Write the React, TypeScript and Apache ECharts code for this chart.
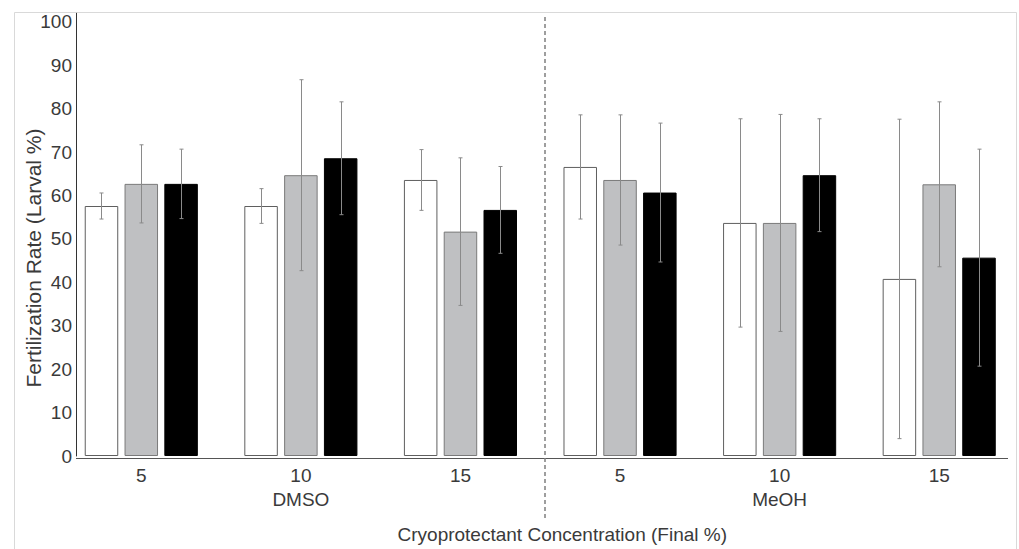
import React, { useEffect, useRef } from "react";
import * as echarts from "echarts";

const categories = ["5", "10", "15", "5", "10", "15"];
const groups = ["DMSO", "MeOH"];
const seriesNames = ["Treatment A", "Treatment B", "Treatment C"];
const whiteValues = [57.6, 57.6, 63.6, 66.6, 53.7, 40.8];
const grayValues = [62.7, 64.7, 51.7, 63.6, 53.7, 62.6];
const blackValues = [62.7, 68.6, 56.7, 60.7, 64.7, 45.7];
const whiteErr = [3, 4, 7, 12, 24, 36.8];
const grayErr = [9, 22, 17, 15, 25, 19];
const blackErr = [8, 13, 10, 16, 13, 25];
const yTicks = [0, 10, 20, 30, 40, 50, 60, 70, 80, 90, 100];
const yTitle = "Fertilization Rate (Larval %)";
const xTitle = "Cryoprotectant Concentration (Final %)";

const FONT = "Liberation Sans, Arial, sans-serif";
const TEXT = "#3a3a3a";
const FS = 19;
const BAR_W = 33.5;
const BAR_GAP = 6.3;

export default function App() {
  const ref = useRef<HTMLDivElement>(null);
  useEffect(() => {
    if (!ref.current) return;
    document.body.style.margin = "0";
    const chart = echarts.init(ref.current, null, { renderer: "svg" });

    const values = [whiteValues, grayValues, blackValues];
    const errs = [whiteErr, grayErr, blackErr];
    const fills = ["#ffffff", "#bfc0c2", "#000000"];
    const borders = ["#5f5f5f", "#7a7a7a", "#000000"];

    const barSeries = values.map((vals, k) => ({
      type: "bar",
      name: seriesNames[k],
      data: vals,
      barWidth: BAR_W,
      barGap: (BAR_GAP / BAR_W) * 100 + "%",
      itemStyle: { color: fills[k], borderColor: borders[k], borderWidth: 1 },
      xAxisIndex: 0,
      yAxisIndex: 0,
      z: 2,
    }));

    const errSeries = values.map((vals, k) => ({
      type: "custom",
      name: seriesNames[k] + " error",
      xAxisIndex: 0,
      yAxisIndex: 0,
      z: 5,
      data: vals.map((v, i) => [i, v - errs[k][i], v + errs[k][i]]),
      encode: { x: 0, y: [1, 2] },
      renderItem: (params: any, api: any) => {
        const x = api.value(0);
        const lo = api.coord([x, api.value(1)]);
        const hi = api.coord([x, api.value(2)]);
        const cx = Math.round(hi[0] + (k - 1) * (BAR_W + BAR_GAP)) + 0.5;
        const cap = 2;
        const style = { stroke: "#8a8a8a", lineWidth: 1, fill: "none" };
        return {
          type: "group",
          children: [
            { type: "line", shape: { x1: cx, y1: hi[1], x2: cx, y2: lo[1] }, style },
            { type: "line", shape: { x1: cx - cap, y1: hi[1], x2: cx + cap, y2: hi[1] }, style },
            { type: "line", shape: { x1: cx - cap, y1: lo[1], x2: cx + cap, y2: lo[1] }, style },
          ],
        };
      },
    }));

    chart.setOption({
      animation: false,
      backgroundColor: "#ffffff",
      textStyle: { fontFamily: FONT },
      grid: { left: 61.5, width: 966, top: 13.3, bottom: 91, containLabel: false },
      xAxis: [
        {
          type: "category",
          data: categories,
          axisLine: { show: false },
          axisTick: { show: false },
          axisLabel: { color: TEXT, fontSize: FS, margin: 9.5, fontFamily: FONT },
          splitLine: { show: false },
        },
        {
          type: "category",
          data: groups,
          position: "bottom",
          axisLine: { show: false },
          axisTick: { show: false },
          axisLabel: { color: TEXT, fontSize: FS, margin: 34, fontFamily: FONT },
          splitLine: { show: false },
          name: xTitle,
          nameLocation: "middle",
          nameGap: 69,
          nameTextStyle: { color: TEXT, fontSize: FS, fontFamily: FONT, padding: [0, 0, 0, 44], verticalAlign: "top" },
        },
      ],
      yAxis: {
        type: "value",
        min: 0,
        max: 102,
        interval: 10,
        offset: -14.5,
        axisLine: { show: true, lineStyle: { color: "#333333", width: 1 } },
        axisTick: { show: false },
        splitLine: { show: false },
        axisLabel: {
          color: TEXT,
          fontSize: FS,
          margin: 4,
          fontFamily: FONT,
          formatter: (v: number) => (yTicks.includes(v) ? String(v) : ""),
        },
      },
      graphic: [
        {
          type: "rect",
          z: 0,
          shape: { x: 14.5, y: 12.5, width: 1002, height: 560 },
          style: { fill: "none", stroke: "#d9d9d9", lineWidth: 1 },
        },
        {
          type: "line",
          z: 100,
          shape: { x1: 76, y1: 458.5, x2: 1008, y2: 458.5 },
          style: { stroke: "#555555", lineWidth: 1 },
        },
        {
          type: "line",
          z: 100,
          shape: { x1: 545, y1: 17, x2: 545, y2: 521 },
          style: { stroke: "#7f7f7f", lineWidth: 1.5, lineDash: [4, 3] },
        },
        {
          type: "text",
          z: 100,
          x: 33,
          y: 258,
          rotation: Math.PI / 2,
          style: {
            text: yTitle,
            fill: TEXT,
            fontSize: 21,
            fontFamily: FONT,
            align: "center",
            verticalAlign: "middle",
          },
        },
      ],
      series: [...barSeries, ...errSeries],
    });
    return () => chart.dispose();
  }, []);
  return (
    <div
      ref={ref}
      style={{ position: "fixed", left: 0, top: 0, width: 1019, height: 549 }}
    />
  );
}
